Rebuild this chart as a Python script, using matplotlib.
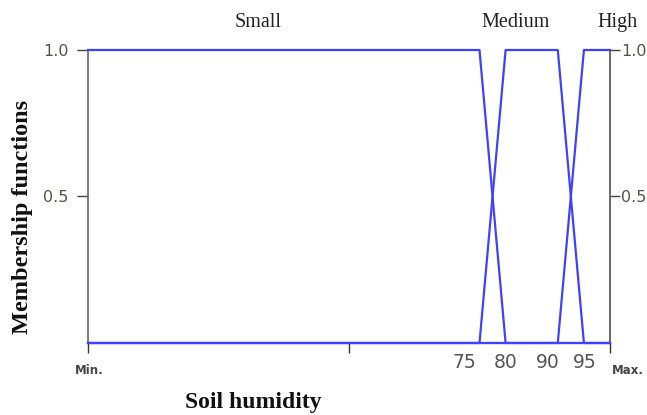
import matplotlib
matplotlib.use("Agg")
import matplotlib.pyplot as plt
import matplotlib.transforms as mtransforms

# Membership functions (x on normalized 0..100 axis from Min. to Max.)
small_x = [0, 75, 80, 100]
small_y = [1, 1, 0, 0]
medium_x = [0, 75, 80, 90, 95, 100]
medium_y = [0, 0, 1, 1, 0, 0]
high_x = [0, 90, 95, 100]
high_y = [0, 0, 1, 1]

set_names = ["Small", "Medium", "High"]
set_label_x = [32.5, 82, 101.5]

x_tick_labels = ["75", "80", "90", "95"]
x_tick_values = [75, 80, 90, 95]
y_tick_values = [0.5, 1.0]
y_tick_labels = ["0.5", "1.0"]

fig = plt.figure(figsize=(6.47, 4.15), dpi=100)
ax = fig.add_axes([88/647, 72/415, (610-88)/647, (343-50)/415])

blue = "#4040ff"
for xs, ys in [(small_x, small_y), (medium_x, medium_y), (high_x, high_y)]:
    ax.plot(xs, ys, color=blue, lw=1.6, clip_on=False, zorder=3)

ax.set_xlim(0, 100)
ax.set_ylim(0, 1)

ax.spines["top"].set_visible(False)
for s in ["left", "right"]:
    ax.spines[s].set_color("#666666")
    ax.spines[s].set_linewidth(1.2)
ax.spines["bottom"].set_color("#000033")
ax.spines["bottom"].set_linewidth(1.5)

# x ticks: Min., middle, Max.
ax.set_xticks([0, 50, 100])
ax.set_xticklabels(["Min.", "", "Max."], fontsize=8.5, color="#444444",
                   fontfamily="DejaVu Sans", fontweight="bold")
ax.tick_params(axis="x", length=7, width=1, color="#333333", pad=8)
lbls = ax.get_xticklabels()
lbls[0].set_horizontalalignment("left")
lbls[0].set_transform(lbls[0].get_transform() + mtransforms.ScaledTranslation(-0.13, 0, fig.dpi_scale_trans))
lbls[2].set_horizontalalignment("left")
lbls[2].set_transform(lbls[2].get_transform() + mtransforms.ScaledTranslation(0.02, 0, fig.dpi_scale_trans))

# numeric labels
offsets_px = [-15, 0, -10, 1]
for v, t, o in zip(x_tick_values, x_tick_labels, offsets_px):
    tr = mtransforms.blended_transform_factory(ax.transData, ax.transAxes) + \
        mtransforms.ScaledTranslation(o/100, 0, fig.dpi_scale_trans)
    ax.text(v, -0.035, t, transform=tr, ha="center", va="top", fontsize=13.5,
            color="#555555", fontfamily="DejaVu Sans")

# y ticks left
ax.set_yticks(y_tick_values)
ax.set_yticklabels(y_tick_labels)
ax.tick_params(axis="y", left=True, right=False, labelleft=True, labelright=False,
               length=8, width=1, color="#444444", labelsize=11.5,
               labelcolor="#555544", pad=6)
# y ticks right
sec = ax.secondary_yaxis("right")
sec.set_yticks(y_tick_values)
sec.set_yticklabels(y_tick_labels)
sec.tick_params(axis="y", length=7, width=1, color="#444444", labelsize=11.5,
                labelcolor="#555544", pad=1)
sec.spines["right"].set_color("#666666")
sec.spines["right"].set_linewidth(1.2)

# set names above
for name, xv in zip(set_names, set_label_x):
    ax.text(xv, 1.0 + 0.06, name, transform=mtransforms.blended_transform_factory(ax.transData, ax.transAxes),
            ha="center", va="bottom", fontsize=14.5, fontfamily="Liberation Serif",
            color="#222222")

fig.text(23/647, 1 - 217/415, "Membership functions", rotation=90, ha="center", va="center",
         fontsize=17.5, fontfamily="Liberation Serif", fontweight="bold", color="#111111")
fig.text(253/647, 1 - 402/415, "Soil humidity", ha="center", va="center",
         fontsize=17, fontfamily="Liberation Serif", fontweight="bold", color="#111111")

fig.savefig("out.png", dpi=100)
